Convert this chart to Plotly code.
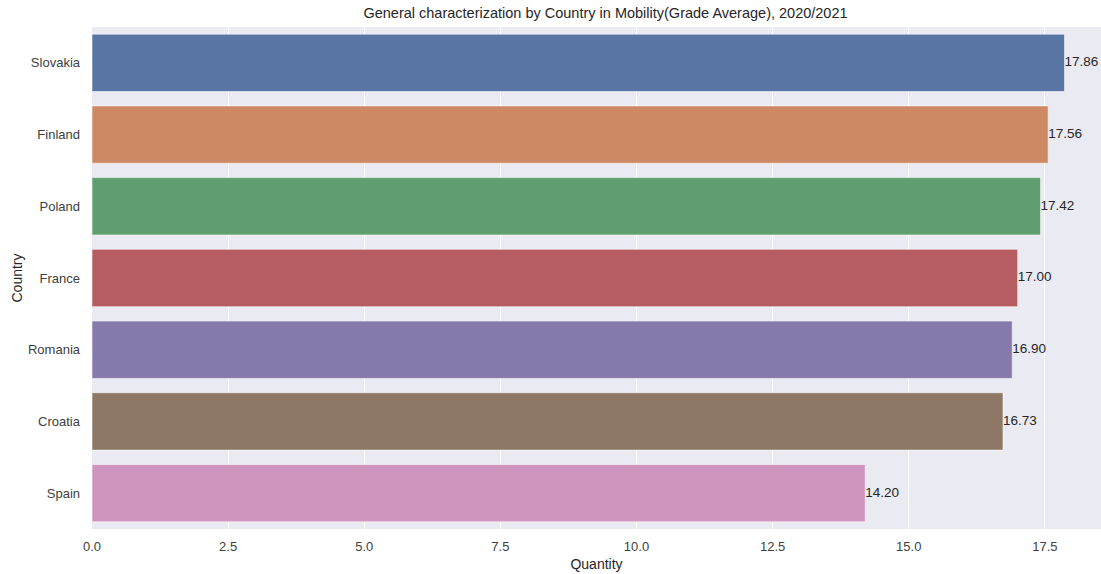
import plotly.graph_objects as go

countries = ["Slovakia", "Finland", "Poland", "France", "Romania", "Croatia", "Spain"]
values = [17.86, 17.56, 17.42, 17.00, 16.90, 16.73, 14.20]
colors = ["#5975a4", "#cc8963", "#5f9e6e", "#b55d60", "#857aab", "#8d7866", "#d095bf"]
x_ticks = [0.0, 2.5, 5.0, 7.5, 10.0, 12.5, 15.0, 17.5]
x_tick_labels = ["0.0", "2.5", "5.0", "7.5", "10.0", "12.5", "15.0", "17.5"]

FONT = "Liberation Sans, Arial, sans-serif"

fig = go.Figure()
fig.add_trace(
    go.Bar(
        x=values,
        y=countries,
        orientation="h",
        width=0.8,
        marker=dict(color=colors, line=dict(color="rgba(255,255,255,0.7)", width=0.8)),
        hoverinfo="skip",
    )
)
fig.add_trace(
    go.Scatter(
        x=values,
        y=countries,
        mode="text",
        text=[f"{v:.2f}" for v in values],
        textposition="middle right",
        textfont=dict(family=FONT, size=13.5, color="#262626"),
        cliponaxis=False,
        hoverinfo="skip",
    )
)

fig.update_layout(
    width=1101,
    height=574,
    margin=dict(l=92, r=0, t=27, b=45, autoexpand=False),
    paper_bgcolor="white",
    plot_bgcolor="#EAEAF2",
    showlegend=False,
    font=dict(family=FONT, color="#262626"),
    title=dict(
        text="General characterization by Country in Mobility(Grade Average), 2020/2021",
        x=605.5 / 1101,
        xanchor="center",
        xref="container",
        y=1 - 13 / 574,
        yanchor="middle",
        yref="container",
        font=dict(family=FONT, size=14.5, color="#262626"),
    ),
    xaxis=dict(
        range=[0, 18.53],
        tickvals=x_ticks,
        ticktext=x_tick_labels,
        showgrid=True,
        gridcolor="white",
        gridwidth=1,
        zeroline=False,
        showline=False,
        ticks="",
        automargin=False,
        ticklabelstandoff=8,
        tickfont=dict(family=FONT, size=13, color="#404040"),
        title=dict(text="Quantity", font=dict(family=FONT, size=14, color="#262626"), standoff=6),
    ),
    yaxis=dict(
        categoryorder="array",
        categoryarray=countries,
        autorange="reversed",
        showgrid=False,
        zeroline=False,
        showline=False,
        ticks="",
        automargin=False,
        ticklabelstandoff=11,
        tickfont=dict(family=FONT, size=13, color="#404040"),
        title=dict(text="Country", font=dict(family=FONT, size=14, color="#262626"), standoff=2),
    ),
    bargap=0.2,
)

fig.write_html(
    "out.html",
    config={"displayModeBar": False},
    post_script="document.body.style.margin='0';document.body.style.overflow='hidden';",
)
